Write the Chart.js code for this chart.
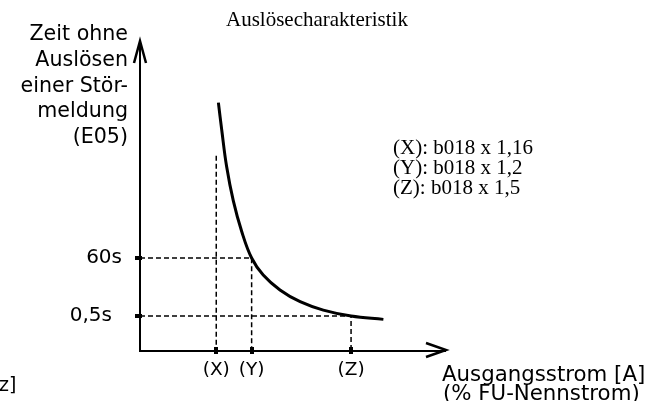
<!DOCTYPE html>
<html lang="de">
<head>
<meta charset="utf-8">
<title>Auslösecharakteristik</title>
<script src="https://cdn.jsdelivr.net/npm/chart.js@4"></script>
<style>
  html, body { margin: 0; padding: 0; background: #fff; }
  #wrap { width: 659px; height: 401px; }
</style>
</head>
<body>
<div id="wrap"><canvas id="tripChart" width="659" height="401"></canvas></div>
<script>
// Schematische Kennlinie, beide Achsen 0..100 ohne Einheit
const currentTicks  = [25, 36.6, 69.2];
const currentLabels = ['(X)', '(Y)', '(Z)'];
const timeTicks     = [30, 11.3];
const timeLabels    = ['60s', '0,5s\u2002'];
const curveX = [25.7, 26.8, 28.4, 30.6, 33.3, 36.6, 40.4, 45.9, 52.5, 60.1, 69.2, 79.8];
const curveY = [80.1, 71.3, 59.5, 48.4, 38.7, 30, 24.5, 19.7, 15.9, 13.2, 11.3, 10.2];
const guideTopX = 63;   // obere Kante der gestrichelten (X)-Linie

const titleText = 'Auslösecharakteristik';
const yTitle = ['Zeit ohne', 'Auslösen', 'einer Stör-', 'meldung', '(E05)'];
const xTitle = ['Ausgangsstrom [A]', '(% FU-Nennstrom)'];
const notes  = ['(X): b018 x 1,16', '(Y): b018 x 1,2', '(Z): b018 x 1,5'];

const SANS  = '"DejaVu Sans", Verdana, sans-serif';
const SERIF = '"Liberation Serif", "Times New Roman", serif';

Chart.defaults.color = '#000';

const curve = curveX.map((x, i) => ({ x, y: curveY[i] }));
const guideX  = [{ x: currentTicks[0], y: guideTopX }, { x: currentTicks[0], y: 0 }];
const guide60 = [{ x: 0, y: timeTicks[0] }, { x: currentTicks[1], y: timeTicks[0] }, { x: currentTicks[1], y: 0 }];
const guide05 = [{ x: 0, y: timeTicks[1] }, { x: currentTicks[2], y: timeTicks[1] }, { x: currentTicks[2], y: 0 }];

const dashed = { showLine: true, borderColor: '#000', borderWidth: 1.5, borderDash: [5, 3], pointRadius: 0, tension: 0 };

// Pfeilspitzen, Teilstriche und freie Beschriftung
const sketchDecor = {
    id: 'sketchDecor',
    afterDraw(chart) {
        const { ctx, chartArea: a, scales } = chart;
        ctx.save();
        ctx.strokeStyle = '#000';
        ctx.fillStyle = '#000';
        ctx.lineWidth = 2.5;
        ctx.beginPath();
        ctx.moveTo(a.left - 6, a.top + 22);
        ctx.lineTo(a.left, a.top);
        ctx.lineTo(a.left + 6, a.top + 22);
        ctx.moveTo(a.right - 19, a.bottom - 8);
        ctx.lineTo(a.right + 1, a.bottom - 1);
        ctx.lineTo(a.right - 19, a.bottom + 6);
        ctx.stroke();

        currentTicks.forEach(v => {
            const px = Math.round(scales.x.getPixelForValue(v));
            ctx.fillRect(px - 2, a.bottom - 4, 4, 7);
        });
        timeTicks.forEach(v => {
            const py = Math.round(scales.y.getPixelForValue(v));
            ctx.fillRect(a.left - 5, py - 2, 7, 4);
        });

        ctx.textBaseline = 'alphabetic';
        ctx.font = `21px ${SERIF}`;
        ctx.textAlign = 'left';
        ctx.fillText(titleText, 226, 26);
        notes.forEach((t, i) => ctx.fillText(t, 393, 154 + i * 20));

        ctx.font = `20.6px ${SANS}`;
        ctx.textAlign = 'right';
        yTitle.forEach((t, i) => ctx.fillText(t, 128, 40 + i * 25.8));

        ctx.textAlign = 'left';
        ctx.font = `21.3px ${SANS}`;
        ctx.fillText(xTitle[0], 442, 381);
        ctx.fillText(xTitle[1], 443, 400);

        ctx.font = `19px ${SANS}`;
        ctx.fillText('z]', -1, 391);
        ctx.restore();
    },
};

new Chart(document.getElementById('tripChart'), {
    type: 'scatter',
    data: {
        datasets: [
            { data: curve, showLine: true, borderColor: '#000', borderWidth: 3, pointRadius: 0, tension: 0.4 },
            { data: guideX,  ...dashed },
            { data: guide60, ...dashed },
            { data: guide05, ...dashed },
        ],
    },
    options: {
        responsive: false,
        animation: false,
        layout: { padding: { top: 41, right: 214, bottom: 0, left: 0 } },
        plugins: { legend: { display: false }, tooltip: { enabled: false } },
        scales: {
            x: {
                type: 'linear', min: 0, max: 100,
                afterFit: s => { s.height = 50; },
                afterBuildTicks: s => { s.ticks = currentTicks.map(v => ({ value: v })); },
                border: { display: true, color: '#000', width: 2 },
                grid: { drawOnChartArea: false, drawTicks: false },
                ticks: { padding: 8, maxRotation: 0, autoSkip: false,
                         font: { family: SANS, size: 18.5 },
                         callback: (v, i) => currentLabels[i] },
            },
            y: {
                type: 'linear', min: 0, max: 100,
                afterFit: s => { s.width = 140; },
                afterBuildTicks: s => { s.ticks = timeTicks.map(v => ({ value: v })); },
                border: { display: true, color: '#000', width: 2 },
                grid: { drawOnChartArea: false, drawTicks: false },
                ticks: { padding: 18, autoSkip: false,
                         font: { family: SANS, size: 20 },
                         callback: (v, i) => timeLabels[i] },
            },
        },
    },
    plugins: [sketchDecor],
});
</script>
</body>
</html>
